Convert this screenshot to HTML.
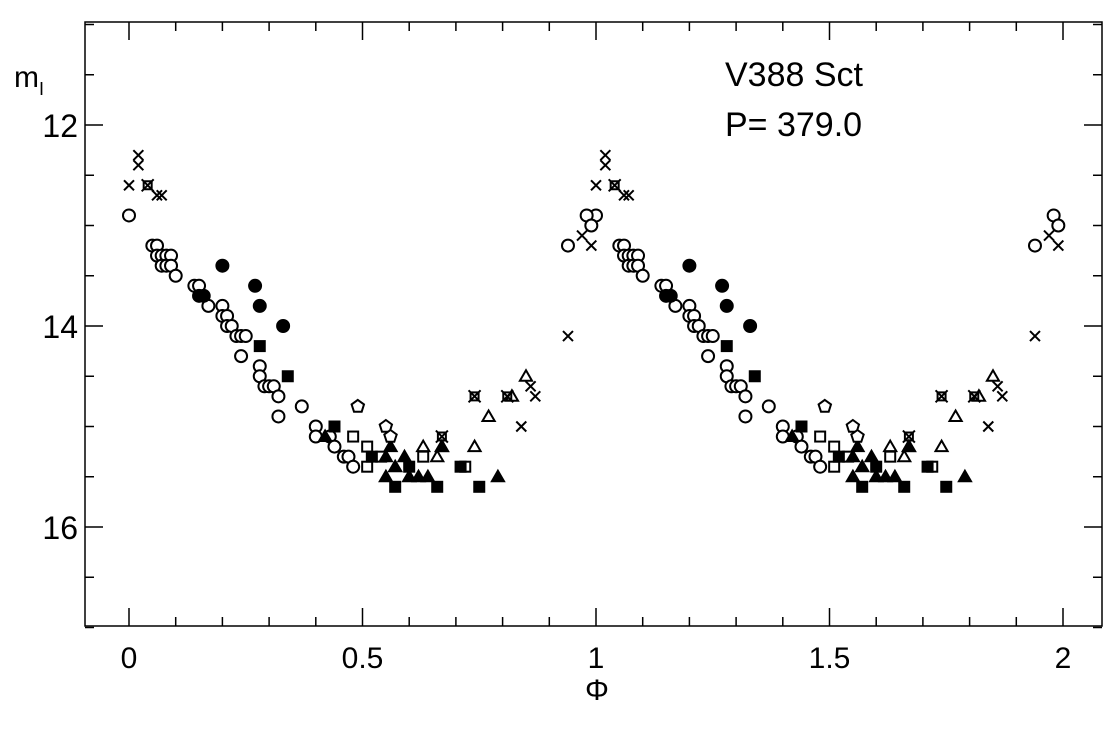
<!DOCTYPE html>
<html><head><meta charset="utf-8"><style>
body{margin:0;background:#fff}
svg{display:block}
text{font-family:"Liberation Sans",sans-serif;fill:#000}
</style></head><body>
<svg id="c" width="1110" height="732">
<rect x="85" y="22" width="1017" height="604" fill="none" stroke="#000" stroke-width="1.5"/>
<g id="ticks"></g>
<g id="pts"></g>
<text x="725" y="86" font-size="34">V388 Sct</text>
<text x="725" y="136" font-size="34">P= 379.0</text>
<text x="14" y="87" font-size="30">m<tspan font-size="18" dy="8">I</tspan></text>
<text x="585" y="700" font-size="30">Φ</text>
</svg>
<script>
const xTicks=[0,0.5,1,1.5,2];
const xTickLabels=["0","0.5","1","1.5","2"];
const yTicks=[12,14,16];
const yTickLabels=["12","14","16"];
const crossPts=[[0,12.6],[0.02,12.3],[0.02,12.4],[0.06,12.7],[0.07,12.7],[0.84,15.0],[0.86,14.6],[0.87,14.7],[0.94,14.1],[0.97,13.1],[0.99,13.2]];
const openCircles=[[0,12.9],[0.05,13.2],[0.06,13.2],[0.06,13.3],[0.07,13.3],[0.08,13.3],[0.09,13.3],[0.07,13.4],[0.08,13.4],[0.09,13.4],[0.1,13.5],[0.14,13.6],[0.15,13.6],[0.17,13.8],[0.2,13.8],[0.2,13.9],[0.21,13.9],[0.21,14.0],[0.22,14.0],[0.23,14.1],[0.24,14.1],[0.25,14.1],[0.24,14.3],[0.28,14.4],[0.28,14.5],[0.29,14.6],[0.3,14.6],[0.31,14.6],[0.32,14.7],[0.32,14.9],[0.37,14.8],[0.4,15.0],[0.4,15.1],[0.43,15.1],[0.44,15.2],[0.46,15.3],[0.47,15.3],[0.48,15.4],[0.94,13.2],[0.98,12.9],[0.99,13.0]];
const filledCircles=[[0.15,13.7],[0.16,13.7],[0.2,13.4],[0.27,13.6],[0.28,13.8],[0.33,14.0]];
const filledSquares=[[0.28,14.2],[0.34,14.5],[0.44,15.0],[0.52,15.3],[0.57,15.6],[0.6,15.4],[0.66,15.6],[0.71,15.4],[0.75,15.6]];
const openSquares=[[0.48,15.1],[0.51,15.2],[0.51,15.4],[0.54,15.3],[0.63,15.3],[0.72,15.4]];
const filledTriangles=[[0.42,15.1],[0.55,15.3],[0.56,15.2],[0.55,15.5],[0.57,15.4],[0.59,15.3],[0.6,15.5],[0.62,15.5],[0.64,15.5],[0.67,15.2],[0.79,15.5]];
const openTriangles=[[0.63,15.2],[0.66,15.3],[0.67,15.2],[0.77,14.9],[0.74,15.2],[0.82,14.7],[0.85,14.5]];
const pentagons=[[0.49,14.8],[0.55,15.0],[0.56,15.1]];
const crossSquares=[[0.04,12.6],[0.67,15.1],[0.74,14.7],[0.81,14.7]];
const NS="http://www.w3.org/2000/svg";
const X=p=>129+p*467, Y=m=>125+(m-12)*100.5;
const tg=document.getElementById('ticks'), pg=document.getElementById('pts');
function ln(x1,y1,x2,y2,g){const l=document.createElementNS(NS,'line');l.setAttribute('x1',x1);l.setAttribute('y1',y1);l.setAttribute('x2',x2);l.setAttribute('y2',y2);l.setAttribute('stroke','#000');l.setAttribute('stroke-width','1.5');g.appendChild(l);return l;}
for(let i=0;i<=20;i++){const p=i/10,x=X(p),L=(i%5==0)?18:9;
 const a=ln(x,626,x,626-L,tg);
 const b=ln(x,22,x,22+L,tg);}
for(let i=0;i<=12;i++){const m=11+i*0.5,y=Y(m),L=(m%2==0)?18:9;
 const a=ln(85,y,85+L,y,tg);
 const b=ln(1102,y,1102-L,y,tg);}
xTicks.forEach((v,i)=>{const t=document.createElementNS(NS,'text');t.setAttribute('x',X(v));t.setAttribute('y',668);t.setAttribute('font-size','30');t.setAttribute('text-anchor','middle');t.textContent=xTickLabels[i];


tg.appendChild(t);});
yTicks.forEach((v,i)=>{const t=document.createElementNS(NS,'text');t.setAttribute('x',78);t.setAttribute('y',Y(v)+12);t.setAttribute('font-size','32');t.setAttribute('text-anchor','end');t.textContent=yTickLabels[i];


tg.appendChild(t);});
function mk(tag,attrs,name){const e=document.createElementNS(NS,tag);for(const k in attrs)e.setAttribute(k,attrs[k]);


pg.appendChild(e);return e;}
function poly(cx,cy,n,r,rot){let s=[];for(let i=0;i<n;i++){const a=rot+i*2*Math.PI/n;s.push((cx+r*Math.cos(a)).toFixed(1)+','+(cy+r*Math.sin(a)).toFixed(1));}return s.join(' ');}
function draw(arr,type){arr.forEach(([p,m])=>{[p,p+1].forEach(pp=>{const x=X(pp),y=Y(m);
 const st={stroke:'#000','stroke-width':2};
 if(type=='cross'){mk('path',{d:`M${x-5},${y-5}L${x+5},${y+5}M${x-5},${y+5}L${x+5},${y-5}`,...st},'cross-point');}
 else if(type=='oc')mk('circle',{cx:x,cy:y,r:6,fill:'#fff',...st},'open-circle-point');
 else if(type=='fc')mk('circle',{cx:x,cy:y,r:6,fill:'#000',...st},'filled-circle-point');
 else if(type=='fs')mk('rect',{x:x-5,y:y-5,width:10,height:10,fill:'#000',...st},'filled-square-point');
 else if(type=='os')mk('rect',{x:x-5,y:y-5,width:10,height:10,fill:'#fff',...st},'open-square-point');
 else if(type=='ft')mk('polygon',{points:poly(x,y+1,3,7,-Math.PI/2),fill:'#000',...st},'filled-triangle-point');
 else if(type=='ot')mk('polygon',{points:poly(x,y+1,3,7,-Math.PI/2),fill:'#fff',...st},'open-triangle-point');
 else if(type=='pt')mk('polygon',{points:poly(x,y,5,6.5,-Math.PI/2),fill:'#fff',...st},'pentagon-point');
 else if(type=='cs'){mk('path',{d:`M${x-4},${y-4}H${x+4}V${y+4}H${x-4}ZM${x-6},${y-6}L${x+6},${y+6}M${x-6},${y+6}L${x+6},${y-6}`,fill:'none',...st},'crossed-square-point');}
});});}
draw(openCircles,'oc');draw(filledCircles,'fc');draw(openSquares,'os');draw(filledSquares,'fs');
draw(openTriangles,'ot');draw(filledTriangles,'ft');draw(pentagons,'pt');draw(crossPts,'cross');draw(crossSquares,'cs');
</script>
</body></html>
